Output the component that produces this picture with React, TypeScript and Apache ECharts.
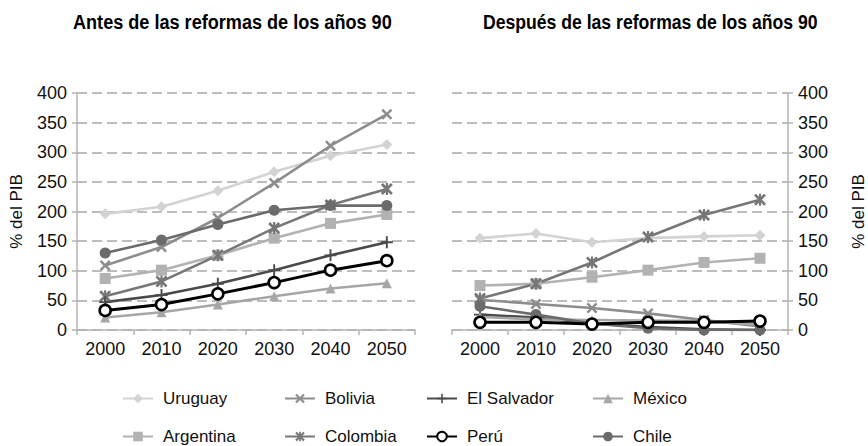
import React, { useEffect, useRef } from "react";
import * as echarts from "echarts";

const years = ["2000", "2010", "2020", "2030", "2040", "2050"];

// Antes de las reformas
const uruguayA = [196, 208, 235, 267, 294, 313];
const boliviaA = [109, 140, 189, 248, 311, 364];
const colombiaA = [57, 82, 126, 172, 211, 238];
const chileA = [130, 152, 178, 202, 210, 210];
const argentinaA = [87, 101, 126, 155, 180, 195];
const salvadorA = [47, 59, 78, 101, 126, 148];
const peruA = [33, 43, 61, 80, 101, 117];
const mexicoA = [21, 30, 43, 57, 70, 79];

// Después de las reformas
const uruguayD = [155, 163, 148, 155, 158, 160];
const boliviaD = [51, 44, 37, 28, 17, 6];
const colombiaD = [53, 78, 114, 157, 194, 220];
const chileD = [40, 26, 11, 3, 0, 0];
const argentinaD = [75, 78, 89, 101, 114, 121];
const salvadorD = [26, 21, 11, 5, 1, 0];
const peruD = [13, 13, 10, 13, 13, 15];
const mexicoD = [22, 18, 17, 16, 15, 9];

const titles = ["Antes de las reformas de los años 90", "Después de las reformas de los años 90"];

const X_PATH =
  "path://M0,1.6 L1.6,0 L5,3.4 L8.4,0 L10,1.6 L6.6,5 L10,8.4 L8.4,10 L5,6.6 L1.6,10 L0,8.4 L3.4,5 Z";
const PLUS_PATH =
  "path://M4.2,0 L5.8,0 L5.8,4.2 L10,4.2 L10,5.8 L5.8,5.8 L5.8,10 L4.2,10 L4.2,5.8 L0,5.8 L0,4.2 L4.2,4.2 Z";
const STAR_PATH =
  "path://M0,1.6 L1.6,0 L5,3.4 L8.4,0 L10,1.6 L6.6,5 L10,8.4 L8.4,10 L5,6.6 L1.6,10 L0,8.4 L3.4,5 Z M4.1,0 L5.9,0 L5.9,10 L4.1,10 Z";

const FONT = "'Liberation Sans', Arial, sans-serif";
const TITLE_FONT = "bold 20px 'Liberation Sans', Arial, sans-serif";

const seriesDefs = [
  { name: "Uruguay", a: uruguayA, d: uruguayD, color: "#d3d3d3", symbol: "diamond", size: 11 },
  { name: "Argentina", a: argentinaA, d: argentinaD, color: "#b2b2b2", symbol: "rect", size: 11 },
  { name: "Bolivia", a: boliviaA, d: boliviaD, color: "#8d8d8d", symbol: X_PATH, size: 11 },
  { name: "Colombia", a: colombiaA, d: colombiaD, color: "#777777", symbol: STAR_PATH, size: 12 },
  { name: "El Salvador", a: salvadorA, d: salvadorD, color: "#4a4a4a", symbol: PLUS_PATH, size: 12 },
  { name: "Perú", a: peruA, d: peruD, color: "#000000", symbol: "circle", size: 11 },
  { name: "México", a: mexicoA, d: mexicoD, color: "#a6a6a6", symbol: "triangle", size: 10 },
  { name: "Chile", a: chileA, d: chileD, color: "#6b6b6b", symbol: "circle", size: 11 },
];

const legendPos: Record<string, [number, number]> = {
  Uruguay: [122, 390],
  Argentina: [122, 428],
  Bolivia: [284, 390],
  Colombia: [284, 428],
  "El Salvador": [426, 390],
  "Perú": [426, 428],
  "México": [592, 390],
  Chile: [592, 428],
};

function measure(text: string, font: string): number {
  const c = document.createElement("canvas").getContext("2d");
  if (!c) return text.length * 10;
  c.font = font;
  return c.measureText(text).width;
}

export default function App() {
  const ref = useRef<HTMLDivElement>(null);
  useEffect(() => {
    if (!ref.current) return;
    const chart = echarts.init(ref.current, undefined, { renderer: "svg" });

    const makeSeries = (def: any, data: number[], idx: number) => {
      const isPeru = def.name === "Perú";
      return {
        name: def.name,
        type: "line",
        xAxisIndex: idx,
        yAxisIndex: idx,
        data,
        symbol: def.symbol,
        symbolSize: def.size,
        showAllSymbol: true,
        lineStyle: { color: def.color, width: isPeru ? 3 : 2.6 },
        itemStyle: isPeru
          ? { color: "#ffffff", borderColor: "#000000", borderWidth: 2.6 }
          : { color: def.color, borderWidth: 0 },
        z: isPeru ? 5 : 2,
      };
    };

    const series: any[] = [];
    seriesDefs.forEach((d) => series.push(makeSeries(d, d.a, 0)));
    seriesDefs.forEach((d) => series.push(makeSeries(d, d.d, 1)));

    const xAxisCommon = {
      type: "category",
      data: years,
      boundaryGap: true,
      axisLine: { lineStyle: { color: "#b4b4b4", width: 1.5 } },
      axisTick: { show: true, length: 5, lineStyle: { color: "#b4b4b4", width: 1.5 } },
      axisLabel: { color: "#111", fontSize: 18, margin: 10, fontFamily: FONT },
      splitLine: { show: false },
    };
    const yAxisCommon = {
      type: "value",
      min: 0,
      max: 400,
      interval: 50,
      name: "% del PIB",
      nameLocation: "middle",
      nameRotate: 90,
      nameTextStyle: { color: "#111", fontSize: 17, fontFamily: FONT },
      axisLine: { show: true, lineStyle: { color: "#b4b4b4", width: 1.5 } },
      axisTick: { show: true, length: 5, lineStyle: { color: "#b4b4b4", width: 1.5 } },
      axisLabel: { color: "#111", fontSize: 18, margin: 10, fontFamily: FONT },
      splitLine: { show: true, lineStyle: { color: "#a8a8a8", type: [10, 5], width: 1.5 } },
    };

    const titleWidths = [319, 335];
    const titleLefts = [73, 483];
    const graphic = titles.map((t, i) => {
      const w = measure(t, TITLE_FONT);
      return {
        type: "text",
        left: titleLefts[i],
        top: 12,
        scaleX: titleWidths[i] / w,
        style: { text: t, font: TITLE_FONT, fill: "#000" },
      };
    });

    chart.setOption({
      animation: false,
      backgroundColor: "#ffffff",
      textStyle: { fontFamily: FONT },
      graphic: graphic.map((g) => ({
        type: "group",
        x: g.left,
        y: g.top,
        scaleX: g.scaleX,
        children: [{ type: "text", x: 0, y: 0, style: g.style }],
      })),
      legend: seriesDefs.map((d) => ({
        data: [d.name],
        left: legendPos[d.name][0],
        top: legendPos[d.name][1],
        padding: 0,
        itemWidth: 30,
        itemHeight: 12,
        textStyle: { fontSize: 17, color: "#111", fontFamily: FONT, padding: [0, 0, 0, 5] },
      })),
      grid: [
        { left: 77, right: 453, top: 93, bottom: 116, containLabel: false },
        { left: 452, right: 80, top: 93, bottom: 116, containLabel: false },
      ],
      xAxis: [
        { ...xAxisCommon, gridIndex: 0 },
        { ...xAxisCommon, gridIndex: 1 },
      ],
      yAxis: [
        { ...yAxisCommon, gridIndex: 0, position: "left", nameGap: 52 },
        { ...yAxisCommon, gridIndex: 1, position: "right", nameGap: 62 },
      ],
      series,
    });

    return () => chart.dispose();
  }, []);

  return (
    <div
      ref={ref}
      style={{ position: "absolute", left: 0, top: 0, width: 868, height: 446 }}
    />
  );
}
